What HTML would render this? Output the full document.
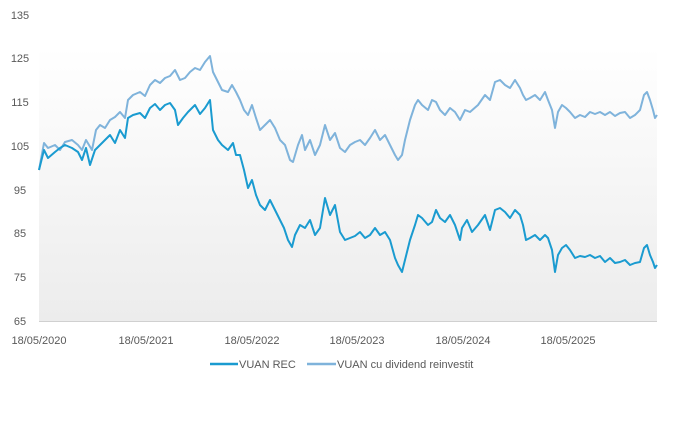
<!DOCTYPE html>
<html><head><meta charset="utf-8"><style>
body{margin:0;background:#fff;}
text{font-family:"Liberation Sans",sans-serif;font-size:11px;fill:#595959;}
</style></head><body>
<svg width="691" height="417" xmlns="http://www.w3.org/2000/svg">
<defs><linearGradient id="g" x1="0" y1="0" x2="0" y2="1">
<stop offset="0" stop-color="#ffffff"/><stop offset="1" stop-color="#ececec"/></linearGradient></defs>
<rect x="39" y="47" width="618" height="274" fill="url(#g)"/>
<line x1="39" y1="321.5" x2="657" y2="321.5" stroke="#d0d0d0" stroke-width="1"/>
<g text-anchor="middle">
<text x="20" y="19">135</text><text x="20" y="62">125</text><text x="20" y="106">115</text>
<text x="20" y="150">105</text><text x="20" y="194">95</text><text x="20" y="237">85</text>
<text x="20" y="281">75</text><text x="20" y="325">65</text>
<text x="39" y="344">18/05/2020</text><text x="146" y="344">18/05/2021</text>
<text x="252" y="344">18/05/2022</text><text x="357" y="344">18/05/2023</text>
<text x="463" y="344">18/05/2024</text><text x="568" y="344">18/05/2025</text>
</g>
<polyline fill="none" stroke="#7fb3db" stroke-width="2" stroke-linejoin="round" points="39,170 44,143 48,148 55,145 60,150 65,142 72,140 78,145 82,150 86,140 92,150 96,130 100,125 105,128 110,120 115,117 120,112 125,118 128,100 133,95 140,92 145,96 150,85 155,80 160,83 165,78 170,76 175,70 180,80 185,78 190,72 195,68 200,70 205,62 210,56 213,72 218,82 222,90 228,92 232,85 236,92 240,100 244,110 248,115 252,105 256,118 260,130 265,125 270,120 275,128 280,140 285,145 290,160 293,162 298,145 302,135 305,150 310,140 315,155 320,145 325,125 330,140 335,133 340,148 345,152 350,145 355,142 360,140 365,145 370,138 375,130 380,140 385,135 390,145 395,155 398,160 402,155 405,140 410,120 415,105 418,100 422,105 428,110 432,100 436,102 440,110 445,115 450,108 455,112 460,120 465,110 470,112 478,105 485,95 490,100 495,82 500,80 505,85 510,88 515,80 520,88 523,95 526,100 530,98 535,95 540,100 545,92 548,100 552,110 555,128 558,112 562,105 566,108 570,112 575,118 580,115 585,117 590,112 595,114 600,112 605,115 610,112 615,116 620,113 625,112 630,118 635,115 640,110 644,95 647,92 650,100 653,110 655,118 657,115"/>
<polyline fill="none" stroke="#1a9bd0" stroke-width="2" stroke-linejoin="round" points="39,170 44,150 48,158 55,152 60,148 65,145 72,148 78,152 82,160 86,148 90,165 95,150 100,145 105,140 110,135 115,143 120,130 125,138 128,118 133,115 140,113 145,118 150,108 155,104 160,110 165,105 170,103 175,110 178,125 183,118 188,112 195,105 200,114 205,108 210,100 213,130 218,140 222,145 228,150 233,143 236,155 240,155 244,170 248,188 252,180 256,195 260,205 265,210 270,200 275,210 280,220 284,228 288,240 292,247 295,235 300,225 305,228 310,220 315,235 320,228 325,198 330,215 335,205 340,232 345,240 350,238 355,236 360,232 365,238 370,235 375,228 380,235 385,232 390,240 395,258 398,265 402,272 405,260 410,240 415,225 418,215 422,218 428,225 432,222 436,210 440,218 445,222 450,215 455,225 460,240 462,228 467,220 472,232 478,225 485,215 490,230 495,210 500,208 505,212 510,218 515,210 520,215 523,225 526,240 530,238 535,235 540,240 545,235 548,238 552,250 555,272 558,255 562,248 566,245 570,250 575,258 580,256 585,257 590,255 595,258 600,256 605,262 610,258 615,263 620,262 625,260 630,265 635,263 640,262 644,248 647,245 650,255 653,262 655,268 657,265"/>
<line x1="210" y1="364" x2="238" y2="364" stroke="#1a9bd0" stroke-width="2.5"/>
<text x="239" y="368">VUAN REC</text>
<line x1="307" y1="364" x2="336" y2="364" stroke="#7fb3db" stroke-width="2.5"/>
<text x="337" y="368">VUAN cu dividend reinvestit</text>
</svg>
</body></html>
